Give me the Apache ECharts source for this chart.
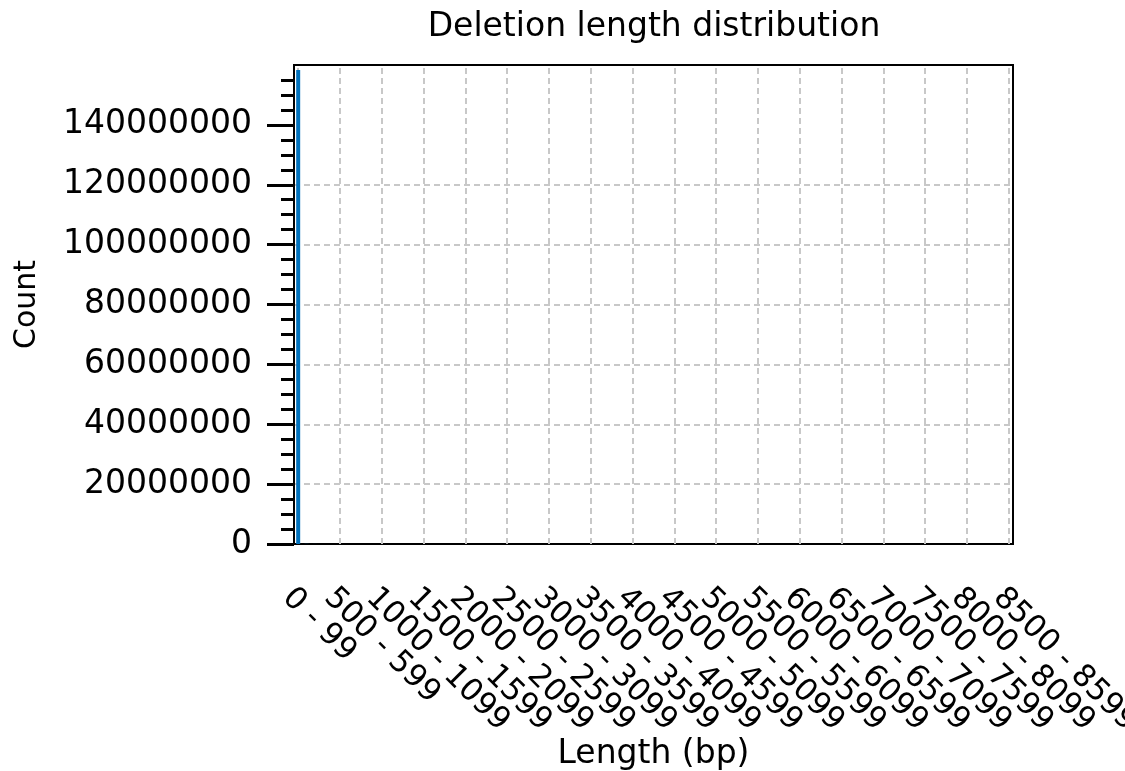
<!DOCTYPE html>
<html>
<head>
<meta charset="utf-8">
<title>Deletion length distribution</title>
<script src="https://cdn.jsdelivr.net/npm/echarts@6/dist/echarts.min.js"></script>
<style>
  html, body { margin: 0; padding: 0; background: #ffffff; }
  #chart { width: 1125px; height: 771px; }
</style>
</head>
<body>
<div id="chart"></div>
<script>
// Bin labels (100 bp bins)
const categories = [
  '0 - 99', '100 - 199', '200 - 299', '300 - 399', '400 - 499',
  '500 - 599', '600 - 699', '700 - 799', '800 - 899', '900 - 999',
  '1000 - 1099', '1100 - 1199', '1200 - 1299', '1300 - 1399', '1400 - 1499',
  '1500 - 1599', '1600 - 1699', '1700 - 1799', '1800 - 1899', '1900 - 1999',
  '2000 - 2099', '2100 - 2199', '2200 - 2299', '2300 - 2399', '2400 - 2499',
  '2500 - 2599', '2600 - 2699', '2700 - 2799', '2800 - 2899', '2900 - 2999',
  '3000 - 3099', '3100 - 3199', '3200 - 3299', '3300 - 3399', '3400 - 3499',
  '3500 - 3599', '3600 - 3699', '3700 - 3799', '3800 - 3899', '3900 - 3999',
  '4000 - 4099', '4100 - 4199', '4200 - 4299', '4300 - 4399', '4400 - 4499',
  '4500 - 4599', '4600 - 4699', '4700 - 4799', '4800 - 4899', '4900 - 4999',
  '5000 - 5099', '5100 - 5199', '5200 - 5299', '5300 - 5399', '5400 - 5499',
  '5500 - 5599', '5600 - 5699', '5700 - 5799', '5800 - 5899', '5900 - 5999',
  '6000 - 6099', '6100 - 6199', '6200 - 6299', '6300 - 6399', '6400 - 6499',
  '6500 - 6599', '6600 - 6699', '6700 - 6799', '6800 - 6899', '6900 - 6999',
  '7000 - 7099', '7100 - 7199', '7200 - 7299', '7300 - 7399', '7400 - 7499',
  '7500 - 7599', '7600 - 7699', '7700 - 7799', '7800 - 7899', '7900 - 7999',
  '8000 - 8099', '8100 - 8199', '8200 - 8299', '8300 - 8399', '8400 - 8499',
  '8500 - 8599'
];

// Deletion counts per bin
const counts = [
  158300000, 41200, 12800, 6100, 3900, 2700, 1900, 1500, 1200, 980,
  850, 720, 640, 560, 510, 460, 420, 380, 350, 330,
  310, 290, 270, 250, 240, 230, 210, 200, 190, 180,
  170, 165, 160, 150, 140, 135, 130, 120, 115, 110,
  105, 100, 95, 90, 88, 85, 80, 78, 75, 70,
  68, 65, 62, 60, 58, 55, 52, 50, 48, 46,
  44, 42, 40, 38, 36, 35, 34, 32, 30, 29,
  28, 27, 26, 25, 24, 23, 22, 21, 20, 19,
  18, 17, 16, 15, 14, 13
];

// Bins that carry a label and a vertical grid line
const xTickLabels = [
  '0 - 99', '500 - 599', '1000 - 1099', '1500 - 1599', '2000 - 2099',
  '2500 - 2599', '3000 - 3099', '3500 - 3599', '4000 - 4099', '4500 - 4599',
  '5000 - 5099', '5500 - 5599', '6000 - 6099', '6500 - 6599', '7000 - 7099',
  '7500 - 7599', '8000 - 8099', '8500 - 8599'
];

// Labelled counts on the vertical axis
const yTickValues = [
  0, 20000000, 40000000, 60000000, 80000000, 100000000, 120000000, 140000000
];

const FONT = 'DejaVu Sans';
const gridLine = { color: '#c8c8c8', width: 2, type: [6, 4] };

const chart = echarts.init(document.getElementById('chart'), null, { renderer: 'canvas' });

chart.setOption({
  animation: false,
  backgroundColor: '#ffffff',
  textStyle: { fontFamily: FONT, color: '#000' },
  title: {
    text: 'Deletion length distribution',
    left: 649,
    textAlign: 'center',
    top: 6,
    textStyle: { fontFamily: FONT, fontSize: 33, fontWeight: 'normal', color: '#000' }
  },
  grid: {
    left: 294, right: 112, top: 65, bottom: 227,
    outerBoundsMode: 'none',
    containLabel: false,
    show: true, borderColor: '#000', borderWidth: 2, backgroundColor: 'transparent'
  },
  xAxis: {
    type: 'category',
    data: categories,
    boundaryGap: true,
    name: 'Length (bp)',
    nameLocation: 'middle',
    nameGap: 194,
    nameMoveOverlap: false,
    nameTextStyle: { fontFamily: FONT, fontSize: 33, color: '#000' },
    axisLine: { show: true, lineStyle: { color: '#000', width: 2 } },
    axisTick: { show: false },
    splitLine: { show: false },
    axisLabel: {
      interval: 0,
      hideOverlap: false,
      rotate: -45,
      align: 'left',
      verticalAlign: 'top',
      margin: 38,
      fontFamily: FONT,
      fontSize: 31,
      color: '#000',
      formatter: v => (xTickLabels.indexOf(v) >= 0 ? v : '')
    }
  },
  yAxis: {
    type: 'value',
    min: 0,
    max: 160000000,
    interval: 20000000,
    name: 'Count',
    nameLocation: 'middle',
    nameGap: 252,
    nameTextStyle: { fontFamily: FONT, fontSize: 30, color: '#000' },
    axisLine: { show: true, lineStyle: { color: '#000', width: 2 } },
    axisTick: { show: true, customValues: yTickValues, length: 27, lineStyle: { color: '#000', width: 3 } },
    minorTick: { show: true, splitNumber: 4, length: 13, lineStyle: { color: '#000', width: 3 } },
    splitLine: { show: true, showMaxLine: false, lineStyle: gridLine },
    axisLabel: {
      customValues: yTickValues,
      margin: 42,
      fontFamily: FONT,
      fontSize: 33,
      color: '#000',
      formatter: v => String(v)
    }
  },
  series: [
    {
      // vertical grid lines at the labelled bins, kept beneath the bars
      type: 'line',
      data: [],
      z: 1,
      silent: true,
      markLine: {
        z: 1,
        silent: true,
        symbol: ['none', 'none'],
        label: { show: false },
        lineStyle: gridLine,
        data: xTickLabels.map(c => ({ xAxis: c }))
      }
    },
    {
      type: 'bar',
      z: 3,
      barWidth: 4,
      itemStyle: { color: '#0071bc' },
      data: counts
    }
  ]
});
</script>
</body>
</html>
